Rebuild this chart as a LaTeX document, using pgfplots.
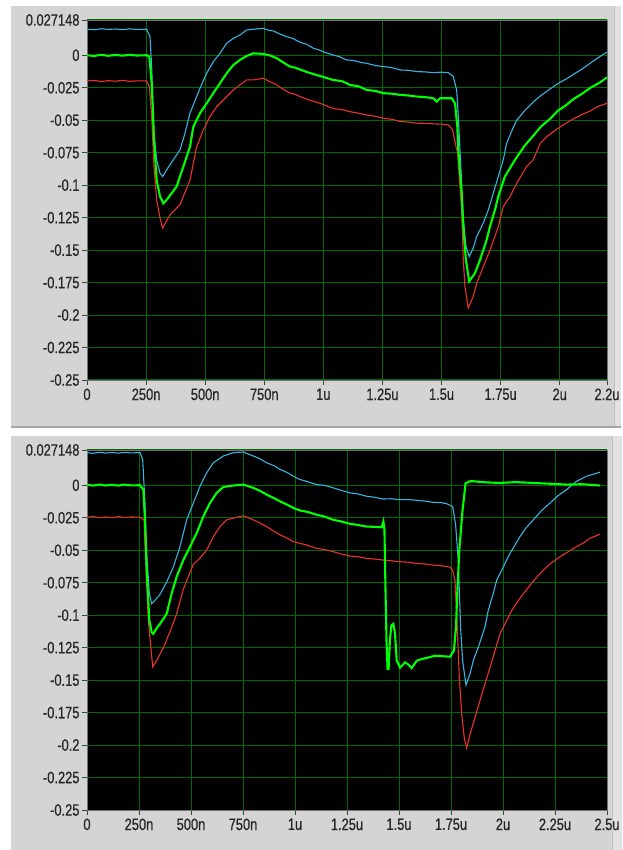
\documentclass[border=0pt]{standalone}
\usepackage{fontspec}
\setmainfont{Liberation Sans}[FakeStretch=0.78, FakeBold=0.6]
\usepackage{pgfplots}
\pgfplotsset{compat=1.18}
\definecolor{panel}{RGB}{212,212,212}
\definecolor{strip}{RGB}{226,226,226}
\definecolor{gridg}{RGB}{0,105,0}
\definecolor{tcyan}{RGB}{55,180,225}
\definecolor{tgreen}{RGB}{0,255,0}
\definecolor{tred}{RGB}{235,50,40}
\pgfplotsset{lvstyle/.style={
  scale only axis, width=520pt, height=360pt,
  axis background/.style={fill=black},
  grid=major, major grid style={gridg, line width=1pt},
  tick align=outside, major tick length=5pt,
  tick style={black!75, line width=0.9pt},
  axis line style={black!55, line width=0.6pt},
  tick pos=left,
  ymin=-0.25, ymax=0.027148,
  ytick={0.027148,0,-0.025,-0.05,-0.075,-0.1,-0.125,-0.15,-0.175,-0.2,-0.225,-0.25},
  yticklabels={0.027148,0,-0.025,-0.05,-0.075,-0.1,-0.125,-0.15,-0.175,-0.2,-0.225,-0.25},
  tick label style={font=\fontsize{16.5}{16.5}\selectfont, text=black!85},
  yticklabel style={xshift=1pt},
  /pgf/number format/assume math mode=true,
  every axis plot/.append style={no marks},
}}
\begin{document}
\begin{tikzpicture}
\path[use as bounding box] (0,0) rectangle (622pt,850pt);
\fill[white] (0,0) rectangle (622pt,850pt);
% top panel frame
\fill[panel] (11pt,422pt) rectangle (614pt,844pt);
\fill[strip] (614pt,422pt) rectangle (621pt,844pt);
\draw[black!25, line width=0.8pt] (614pt,422pt) -- (614pt,844pt);
\fill[black!35] (11pt,421.5pt) rectangle (621pt,423.5pt);
% bottom panel frame
\fill[panel] (11pt,0pt) rectangle (612pt,414pt);
\fill[strip] (612pt,0pt) rectangle (622pt,414pt);
\draw[black!25, line width=0.8pt] (612pt,0pt) -- (612pt,414pt);

% ---------------- top graph ----------------
\begin{axis}[lvstyle, at={(87pt,470pt)}, anchor=south west,
  xmin=0, xmax=2.2,
  xtick={0,0.25,0.5,0.75,1,1.25,1.5,1.75,2,2.2},
  xticklabels={0,250n,500n,750n,1u,1.25u,1.5u,1.75u,2u,2.2u}]
\addplot[tcyan, line width=1.1pt] coordinates {
(0,0.0200)(0.03,0.0196)(0.06,0.0204)(0.09,0.0199)(0.12,0.0202)(0.15,0.0197)(0.18,0.0203)(0.21,0.0199)(0.2524,0.0200)
(0.2665,0.0143)(0.2736,-0.0087)(0.2835,-0.0600)(0.2947,-0.0805)(0.3088,-0.0908)(0.3201,-0.0934)(0.3370,-0.0882)
(0.3653,-0.0805)(0.3935,-0.0728)(0.4146,-0.0600)(0.4358,-0.0446)(0.4640,-0.0318)(0.4781,-0.0254)(0.5063,-0.0139)
(0.5345,-0.0049)(0.5627,0.0015)(0.5909,0.0092)(0.6191,0.0130)(0.6473,0.0156)(0.6755,0.0195)(0.7037,0.0200)
(0.7460,0.0207)(0.77,0.0192)(0.79,0.0186)(0.81,0.0168)(0.8447,0.0143)(0.87,0.0130)(0.9011,0.0100)(0.93,0.0084)
(0.9576,0.0054)(0.98,0.0042)(1.00,0.0027)(1.0413,0.0002)(1.07,-0.0012)(1.0975,-0.0036)(1.13,-0.0041)(1.16,-0.0056)
(1.1833,-0.0062)(1.22,-0.0079)(1.2536,-0.0087)(1.29,-0.0095)(1.3242,-0.0113)(1.36,-0.0116)(1.3947,-0.0126)
(1.43,-0.0128)(1.4652,-0.0134)(1.50,-0.0130)(1.5287,-0.0134)(1.5498,-0.0164)
(1.5639,-0.0267)(1.5710,-0.0472)(1.578,-0.0728)(1.585,-0.0985)(1.592,-0.125)(1.603,-0.147)(1.617,-0.155)
(1.634,-0.1485)(1.649,-0.1395)(1.677,-0.129)(1.698,-0.119)(1.719,-0.1062)(1.740,-0.0934)(1.761,-0.0805)
(1.775,-0.068)(1.80,-0.057)(1.818,-0.050)(1.85,-0.043)(1.888,-0.036)(1.92,-0.031)(1.959,-0.026)(1.99,-0.022)
(2.03,-0.018)(2.06,-0.0145)(2.10,-0.010)(2.13,-0.0060)(2.17,-0.001)(2.2,0.0025)};
\addplot[tred, line width=1.1pt] coordinates {
(0,-0.0198)(0.03,-0.0194)(0.06,-0.0202)(0.09,-0.0196)(0.12,-0.0200)(0.15,-0.0193)(0.18,-0.0201)(0.21,-0.0197)(0.2524,-0.0198)
(0.2637,-0.0241)(0.2736,-0.0472)(0.2835,-0.0857)(0.2947,-0.1113)(0.3088,-0.1250)(0.320,-0.133)(0.335,-0.128)
(0.351,-0.1230)(0.3935,-0.1150)(0.4358,-0.096)(0.464,-0.0703)(0.4922,-0.0575)(0.5204,-0.0472)(0.5486,-0.0395)
(0.5768,-0.0344)(0.6191,-0.0267)(0.6473,-0.0228)(0.6755,-0.0190)(0.7037,-0.0190)(0.746,-0.0177)(0.775,-0.0205)
(0.8024,-0.0228)(0.83,-0.0262)(0.8588,-0.0292)(0.88,-0.0300)(0.901,-0.0318)(0.94,-0.0345)(0.9858,-0.0370)
(1.0413,-0.0410)(1.08,-0.0418)(1.1116,-0.0434)(1.15,-0.0447)(1.1833,-0.0460)(1.22,-0.0470)(1.2536,-0.0485)
(1.29,-0.0493)(1.3242,-0.0510)(1.36,-0.0514)(1.3947,-0.0523)(1.43,-0.0524)(1.4652,-0.0528)(1.50,-0.0531)
(1.5287,-0.0536)(1.547,-0.0574)(1.5639,-0.0728)(1.567,-0.0733)
(1.585,-0.119)(1.592,-0.1575)(1.599,-0.178)(1.613,-0.1946)(1.634,-0.1857)(1.649,-0.1754)(1.677,-0.1626)
(1.705,-0.150)(1.740,-0.132)(1.761,-0.1164)(1.790,-0.1087)(1.818,-0.0985)(1.860,-0.0857)(1.888,-0.0805)
(1.917,-0.068)(1.95,-0.0620)(1.987,-0.057)(2.02,-0.0530)(2.058,-0.049)(2.09,-0.0460)(2.128,-0.043)(2.16,-0.0395)(2.2,-0.037)};
\addplot[tgreen, line width=2.1pt] coordinates {
(0,0.0000)(0.03,-0.0005)(0.06,0.0003)(0.09,-0.0004)(0.12,0.0002)(0.15,-0.0003)(0.18,0.0003)(0.21,-0.0002)(0.2524,0.0000)
(0.2637,-0.0010)(0.2736,-0.0215)(0.2835,-0.0650)(0.2947,-0.0960)(0.3088,-0.1087)(0.3229,-0.1140)(0.337,-0.1113)
(0.3582,-0.1062)(0.3794,-0.1010)(0.4076,-0.0857)(0.4358,-0.0703)(0.45,-0.0550)(0.4781,-0.0446)(0.5063,-0.0370)
(0.5345,-0.0292)(0.5627,-0.0215)(0.5909,-0.0139)(0.6191,-0.0075)(0.6473,-0.0036)(0.6755,-0.0005)(0.7037,0.0015)
(0.746,0.0010)(0.775,-0.0002)(0.8024,-0.0023)(0.83,-0.0055)(0.8588,-0.0087)(0.88,-0.0095)(0.901,-0.0110)
(0.94,-0.0135)(0.9858,-0.0160)(1.0413,-0.0190)(1.08,-0.0200)(1.1116,-0.0228)(1.15,-0.0240)(1.1833,-0.0267)
(1.22,-0.0275)(1.2536,-0.0292)(1.29,-0.0296)(1.3242,-0.0305)(1.36,-0.0310)(1.3947,-0.0318)(1.43,-0.0322)
(1.4652,-0.0331)(1.4794,-0.0357)(1.4934,-0.0331)
(1.5428,-0.0331)(1.557,-0.0370)(1.5667,-0.0550)(1.571,-0.0733)(1.585,-0.106)(1.592,-0.132)(1.603,-0.1575)
(1.617,-0.174)(1.6416,-0.1677)(1.663,-0.1574)(1.691,-0.142)(1.705,-0.1318)(1.726,-0.119)(1.740,-0.1087)
(1.768,-0.0934)(1.811,-0.0805)(1.85,-0.070)(1.888,-0.062)(1.92,-0.0550)(1.959,-0.049)(1.99,-0.0430)(2.03,-0.038)
(2.06,-0.0335)(2.10,-0.029)(2.13,-0.0250)(2.17,-0.021)(2.2,-0.017)};
\end{axis}

% ---------------- bottom graph ----------------
\begin{axis}[lvstyle, at={(87pt,40pt)}, anchor=south west,
  xmin=0, xmax=2.5,
  xtick={0,0.25,0.5,0.75,1,1.25,1.5,1.75,2,2.25,2.5},
  xticklabels={0,250n,500n,750n,1u,1.25u,1.5u,1.75u,2u,2.25u,2.5u}]
\addplot[tcyan, line width=1.1pt] coordinates {
(0,0.0251)(0.03,0.0246)(0.06,0.0254)(0.09,0.0248)(0.12,0.0252)(0.15,0.0247)(0.18,0.0253)(0.21,0.0249)(0.2548,0.0251)
(0.2676,0.0199)(0.2788,-0.0137)(0.2869,-0.0524)(0.2997,-0.0835)(0.311,-0.0912)(0.3269,-0.0886)(0.351,-0.0840)
(0.383,-0.0745)(0.415,-0.0630)(0.4471,-0.0473)(0.4792,-0.0266)(0.5112,-0.0137)(0.5433,-0.0008)(0.5753,0.0096)
(0.6074,0.0173)(0.6554,0.0225)(0.7035,0.0251)(0.7516,0.0256)(0.7997,0.0225)(0.83,0.0205)(0.8638,0.0173)
(0.90,0.0150)(0.9279,0.0122)(0.96,0.0100)(0.992,0.0070)(1.024,0.0044)(1.06,0.0028)(1.104,0.0005)(1.14,0.0000)
(1.184,-0.0020)(1.22,-0.0038)(1.264,-0.0059)(1.30,-0.0066)(1.345,-0.0085)(1.38,-0.0092)(1.425,-0.0106)(1.46,-0.0104)
(1.505,-0.0111)(1.545,-0.0110)(1.585,-0.0116)(1.625,-0.0122)(1.665,-0.0132)(1.70,-0.0133)(1.729,-0.0142)(1.758,-0.0163)(1.772,-0.0300)(1.785,-0.0580)
(1.796,-0.1093)(1.806,-0.1351)(1.822,-0.1537)(1.841,-0.1454)(1.857,-0.1351)(1.881,-0.1248)(1.913,-0.1093)
(1.929,-0.0964)(1.953,-0.0834)(1.9696,-0.0731)(2.0016,-0.0628)(2.0337,-0.0524)(2.0817,-0.0395)(2.11,-0.0330)(2.1458,-0.0266)
(2.185,-0.0195)(2.226,-0.0137)(2.265,-0.0080)(2.306,-0.0033)(2.354,0.0031)(2.402,0.0070)(2.435,0.0085)(2.466,0.0101)};
\addplot[tred, line width=1.1pt] coordinates {
(0,-0.0246)(0.03,-0.0241)(0.06,-0.0250)(0.09,-0.0243)(0.12,-0.0249)(0.15,-0.0242)(0.18,-0.0248)(0.21,-0.0244)(0.2548,-0.0246)
(0.274,-0.0266)(0.2837,-0.0654)(0.2949,-0.1041)(0.3069,-0.1248)(0.316,-0.1398)(0.343,-0.1326)(0.375,-0.1222)
(0.407,-0.1093)(0.431,-0.0990)(0.463,-0.0800)(0.511,-0.0610)(0.5433,-0.0560)(0.5753,-0.0499)(0.6074,-0.0395)
(0.6394,-0.0318)(0.6715,-0.0266)(0.7035,-0.0253)(0.7516,-0.0235)(0.7997,-0.0266)(0.83,-0.0290)(0.8638,-0.0318)
(0.90,-0.0355)(0.9279,-0.0382)(0.96,-0.0405)(0.992,-0.0434)(1.024,-0.0447)(1.06,-0.0462)(1.104,-0.0486)
(1.14,-0.0494)(1.184,-0.0511)(1.22,-0.0528)(1.264,-0.0545)(1.30,-0.0550)(1.345,-0.0563)(1.38,-0.0568)(1.425,-0.0576)
(1.46,-0.0581)(1.505,-0.0589)(1.545,-0.0592)(1.585,-0.0602)(1.625,-0.0606)(1.665,-0.0615)(1.70,-0.0619)(1.745,-0.0630)(1.758,-0.0654)(1.769,-0.0731)(1.780,-0.1093)
(1.790,-0.148)(1.8015,-0.1764)(1.814,-0.1946)(1.8255,-0.2023)(1.841,-0.192)(1.865,-0.179)(1.889,-0.166)
(1.913,-0.153)(1.9375,-0.1403)(1.9615,-0.1274)(1.9856,-0.1144)(2.0096,-0.1067)(2.042,-0.0964)(2.0737,-0.0886)
(2.11,-0.081)(2.15,-0.0730)(2.194,-0.0654)(2.23,-0.0600)(2.274,-0.055)(2.31,-0.0515)(2.354,-0.0473)(2.39,-0.0440)(2.418,-0.0408)(2.466,-0.0377)};
\addplot[tgreen, line width=2.1pt] coordinates {
(0,0.0005)(0.03,-0.0003)(0.06,0.0006)(0.09,-0.0002)(0.12,0.0004)(0.15,-0.0003)(0.18,0.0005)(0.21,-0.0001)(0.2548,0.0000)
(0.2708,-0.0034)(0.2788,-0.0266)(0.2869,-0.0654)(0.2997,-0.1041)(0.311,-0.1132)(0.319,-0.1144)(0.335,-0.1100)
(0.351,-0.1067)(0.383,-0.0990)(0.407,-0.0834)(0.431,-0.0705)(0.4631,-0.0576)(0.4952,-0.0473)(0.5272,-0.0369)
(0.5593,-0.0240)(0.5913,-0.0137)(0.6234,-0.0059)(0.6554,-0.0013)(0.7035,-0.0002)(0.7516,0.0005)(0.7997,-0.0020)
(0.83,-0.0042)(0.8638,-0.0072)(0.90,-0.0100)(0.9279,-0.0124)(0.96,-0.0148)(0.992,-0.0175)(1.024,-0.0194)
(1.06,-0.0205)(1.104,-0.0227)(1.14,-0.0240)(1.184,-0.0266)(1.22,-0.0278)(1.264,-0.0297)(1.30,-0.0305)
(1.345,-0.0318)(1.38,-0.0320)(1.417,-0.0323)(1.425,-0.0279)(1.430,-0.0340)(1.435,-0.0800)(1.440,-0.1200)(1.445,-0.1416)
(1.450,-0.1416)(1.456,-0.1200)(1.463,-0.1080)(1.4728,-0.1067)(1.481,-0.1144)(1.489,-0.1351)(1.505,-0.1403)
(1.529,-0.1364)(1.545,-0.1380)(1.561,-0.1408)(1.585,-0.1351)(1.609,-0.1338)(1.641,-0.1326)(1.673,-0.1312)
(1.745,-0.1320)(1.764,-0.1274)(1.774,-0.1093)(1.780,-0.0834)(1.790,-0.0500)(1.805,-0.0200)(1.820,0.0015)
(1.841,0.0031)(1.857,0.0031)(1.92,0.0022)(1.9856,0.0018)(2.06,0.0024)(2.146,0.0018)(2.22,0.0012)(2.306,0.0005)(2.38,0.0008)(2.466,-0.0002)};
\end{axis}
\end{tikzpicture}
\end{document}
